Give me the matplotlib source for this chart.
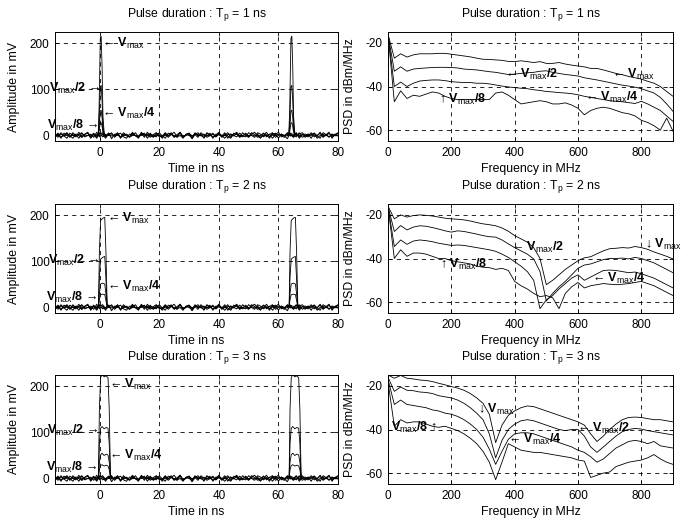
import numpy as np
import matplotlib.pyplot as plt

plt.rcParams['font.family'] = ['Liberation Sans', 'DejaVu Sans']
plt.rcParams['mathtext.fontset'] = 'custom'
plt.rcParams['mathtext.rm'] = 'Liberation Sans'
plt.rcParams['mathtext.bf'] = 'Liberation Sans:bold'
plt.rcParams['mathtext.it'] = 'Liberation Sans:italic'
plt.rcParams['axes.unicode_minus'] = False

# ---------------- time domain data ----------------
TIME = np.arange(-15, 81)          # 1 ns grid of the noise floor
PERIOD = 64                        # second pulse starts 64 ns later

NOISE_A = [2, -5, 5, -2, -7, 4, -1, -4, 6, -5, 1, 4, -7, 2, -2, 5,
           -4, -1, 4, -8, 2, 1, -5, 5, -2, -4, 4, -1, -7, 6, -2, 2,
           -5, 1, 5, -4, -1, -7, 4, 2, -2, -5, 6, -4, 1, -1, -5, 5,
           -2, 2, -7, 4, 1, -4, -1, 6, -5, 2, -2, -7, 4, 1, -4, 5,
           -1, -5, 2, 6, -2, -7, 4, -4, 1, 5, -5, -1, 2, -2, -8, 4,
           1, -4, 5, -5, -1, 2, -7, 4, -2, 6, -4, 1, -5, 2, -1, -2]
NOISE_B = [-2, 4, -4, -1, 5, -5, 2, 1, -7, 4, -2, -1, 2, -5, 6, -4,
           1, -7, 4, 2, -2, 5, -5, -1, 2, -4, 6, -2, -5, 1, 4, -7,
           2, -1, -4, 5, -2, 4, -5, 1, 6, -4, -1, -7, 2, 4, -2, 1,
           -5, 5, -1, -2, 4, -7, 2, 1, -4, -1, 5, -5, 1, 6, -2, -4,
           4, -2, -1, -5, 5, 2, -4, 1, -7, 4, -1, 2, -2, -5, 5, 1,
           -4, 4, -7, 1, 2, -2, 5, -4, -1, 4, -5, 1, 6, -7, 2, -1]
NOISE_C = [-1, 2, -7, 4, 1, -4, 5, -2, -1, -5, 2, 6, -4, 1, -7, 4,
           2, -2, -1, 5, -5, 1, 4, -4, -7, 2, 1, -1, -2, 4, -5, 6,
           -2, -4, 4, 1, -7, 2, -1, 5, -4, -2, 4, -5, 1, 2, -8, 1,
           5, -2, 2, -5, -1, 4, -4, 1, -2, 5, -7, 2, -1, -4, 4, -2,
           -4, 5, 1, -2, 2, -5, -1, 6, -4, 1, 4, -7, 2, -1, -2, 4,
           -5, -1, 2, 5, -2, -4, 1, 4, -7, -1, 2, -2, 4, -4, 1, 5]
NOISE_D = [-5, 1, 2, -2, 4, -1, -7, 2, 1, 5, -4, -1, -2, 4, -5, 2,
           5, -4, 1, -2, -1, 4, -7, 2, 1, -5, -1, 5, -4, 1, 2, -2,
           4, -5, 1, -1, -4, 5, -2, 2, -5, 1, 6, -4, -1, 4, -7, 2,
           1, -1, -5, 5, -2, 2, -4, 4, -1, -7, 1, 2, -2, 4, -5, -1,
           2, -4, 5, 1, -5, -1, 4, -2, 2, -7, 1, 6, -4, -1, 4, -2,
           -1, 5, -4, 1, -5, 2, -1, 4, -2, -7, 5, 1, -4, 2, -2, 4]

# Tp = 1 ns pulse (time relative to pulse start, mV)
P1_T = [-1.0, -0.5, -0.2, 0.2, 0.5, 0.8, 1.1, 1.5, 2.0]
P1_VMAX = [0, 2, 60, 210, 215, 150, 40, 5, 0]
P1_V2 = [0, 1, 30, 105, 108, 75, 20, 3, 0]
P1_V4 = [0, 1, 15, 52, 54, 38, 10, 2, 0]
P1_V8 = [0, 0, 8, 26, 27, 19, 5, 1, 0]

# Tp = 2 ns
P2_T = [-1.0, -0.4, -0.1, 0.3, 1.0, 1.7, 2.1, 2.5, 3.0]
P2_VMAX = [0, 3, 120, 188, 193, 195, 120, 5, 0]
P2_V2 = [0, 2, 65, 104, 108, 110, 60, 3, 0]
P2_V4 = [0, 1, 30, 50, 52, 50, 28, 2, 0]
P2_V8 = [0, 1, 16, 27, 28, 27, 14, 1, 0]

# Tp = 3 ns
P3_T = [-1.0, -0.4, -0.1, 0.3, 0.8, 1.5, 2.2, 2.8, 3.2, 3.6, 4.0]
P3_VMAX = [0, 5, 150, 218, 225, 220, 222, 218, 150, 10, 0]
P3_V2 = [0, 3, 75, 108, 112, 107, 110, 108, 75, 5, 0]
P3_V4 = [0, 2, 35, 50, 54, 49, 52, 50, 35, 3, 0]
P3_V8 = [0, 1, 18, 27, 29, 26, 28, 26, 18, 2, 0]

# ---------------- PSD data (dBm/MHz) ----------------
FREQ = np.arange(0, 901, 20)

PSD1_VMAX = [-16, -27, -25, -26.5, -25.5, -25, -25, -25, -24.8, -24.8,
             -25.2, -25.6, -26, -26.4, -27, -27.5, -27.6, -27.8, -28, -28.5,
             -28.6, -28.2, -28.6, -29, -28.6, -29.4, -29.4, -29, -29.7, -30.2,
             -30.6, -31, -31.7, -31.7, -32.4, -33.2, -34, -34.6, -35.4, -36,
             -36.6, -37.6, -38.5, -40, -42.3, -44.5]
PSD1_V2 = [-16, -33, -31, -33, -32, -31.7, -31.5, -31.3, -31.2, -31.2,
           -31.3, -31.5, -32, -32.2, -32.4, -32.8, -33.2, -33.5, -34, -34.5,
           -34.3, -34, -33.7, -33.5, -33, -32.8, -33.5, -34, -34.5, -34.8,
           -35.2, -36, -36.5, -37, -37.6, -38.2, -38.8, -39.4, -39.8, -40.3,
           -41, -42, -43, -45, -48, -51.4]
PSD1_V4 = [-16, -40, -38, -40, -38.5, -37.5, -37.2, -37, -37, -37.3,
           -37.8, -38, -38.2, -38.2, -38.5, -38.5, -38.8, -39.3, -39.8, -40.2,
           -40.5, -40.8, -41, -41.5, -41.8, -42.3, -42.5, -42.8, -43, -43.3,
           -43.8, -44.5, -45, -45.5, -46, -46.5, -46.8, -47, -47.4, -47.8,
           -46.8, -48, -49.5, -51, -53.5, -56]
PSD1_V8 = [-16, -47, -42, -45.5, -44, -44.5, -43.5, -42.5, -43, -44.5,
           -45.5, -46, -46, -46, -46, -46, -46, -43, -42.5, -44,
           -46, -48, -47.5, -47, -46.5, -47, -48, -48, -47.5, -48.5,
           -50, -53, -51, -50, -49.5, -50, -51, -52, -52.5, -53.5,
           -55.5, -56.5, -58, -60, -54.5, -60.5]

PSD2_VMAX = [-16, -21.8, -20, -21, -20.3, -20, -20.2, -20.5, -21, -21.5,
             -21.8, -22, -22.3, -22.8, -23.5, -24.1, -24.5, -25, -26, -27.5,
             -29.5, -31, -32.5, -35, -40, -52, -50, -47.5, -45, -43,
             -41, -39.7, -39.2, -37.8, -36.5, -35.5, -35.3, -35, -35.2, -34.5,
             -35, -35.8, -37, -38, -39, -40.2]
PSD2_V2 = [-16, -27.6, -24.9, -26.9, -25.6, -25, -25.2, -25.8, -26.5, -27.3,
           -27.9, -27.3, -27.6, -28.2, -28.8, -29.5, -30, -30.2, -31.5, -33.3,
           -35, -36.5, -38, -40.2, -46, -59.5, -56, -53, -50.5, -47.5,
           -44.5, -43, -42.5, -41.5, -40.5, -40, -40, -39.8, -40.2, -39.5,
           -40, -41, -42, -43.5, -45, -46.5]
PSD2_V4 = [-16, -34.5, -31.5, -33.5, -32, -31.5, -31.8, -32.3, -33, -33.5,
           -34, -33.8, -34, -34.5, -35, -35.5, -36, -36.7, -38, -39.5,
           -41.5, -43.5, -46, -50, -63, -59, -57, -54, -51.5, -49,
           -47.5, -50, -48.5, -47, -45.5, -45.3, -45.5, -46, -46.5, -46.2,
           -47, -48, -49, -50.5, -52, -53.5]
PSD2_V8 = [-16, -40, -36, -39, -37.5, -37.5, -38, -39, -40, -40,
           -41, -41.5, -42, -42.5, -43.5, -44, -44.2, -45, -44.5, -45.5,
           -50.5, -52.5, -54, -56, -57.5, -57, -58, -63, -56, -53,
           -51, -53.5, -52.5, -52, -51.5, -51.8, -52, -51.8, -51.5, -51,
           -50.5, -51.5, -52.5, -54, -55.5, -57]

PSD3_VMAX = [-15, -16.5, -15.2, -16.5, -16.8, -17.3, -17.5, -18, -18.8, -19.5,
             -20.3, -21, -22, -23.5, -25.5, -28, -33, -46, -38, -33.5,
             -31.5, -30, -29.2, -29.5, -30.5, -31.5, -32.5, -33.5, -34.5, -35.5,
             -36.5, -38, -42, -45.5, -43, -40, -37.5, -35.5, -34.5, -34.3,
             -34.5, -35, -35.5, -35.5, -36, -36.5]
PSD3_V2 = [-16, -22.5, -20.5, -22, -22.2, -22.8, -23, -23.5, -24.5, -25,
           -25.5, -26.5, -28, -30, -32.5, -35.5, -42, -53, -45, -40,
           -37.5, -36, -35.5, -36, -37, -38, -39, -40, -40.5, -40,
           -40, -43, -48, -50.5, -48, -45.5, -43, -41, -40, -39.5,
           -39.8, -40.5, -41, -41.5, -42, -42.5]
PSD3_V4 = [-17, -28.5, -26.5, -28.5, -29, -29.5, -30, -31, -31.5, -32.5,
           -33, -34, -35.5, -37.5, -40, -43.5, -49, -56, -50, -44.5,
           -42, -41.5, -41.5, -42, -43, -44, -45, -46, -47, -48,
           -49.5, -50.5, -52.5, -55, -53.5, -51, -48.5, -47, -45.5, -45,
           -45.5, -46.5, -45.5, -47.5, -48, -48.5]
PSD3_V8 = [-18, -38.5, -35.5, -37, -36.5, -36.5, -37.5, -38.5, -39, -38.5,
           -39.5, -40.5, -42, -44, -46.5, -50, -55, -63, -55, -46.5,
           -48, -49.5, -50, -50.5, -50.5, -51, -51.5, -52, -52.5, -53,
           -54, -54.5, -62, -61, -60, -59.5, -57, -56, -55, -54.5,
           -54, -53, -51.5, -53.5, -55, -56]

# ---------------- labels ----------------
VMAX = r'$\mathbf{V}_{\mathrm{max}}$'
V2 = r'$\mathbf{V}_{\mathrm{max}}\mathbf{/2}$'
V4 = r'$\mathbf{V}_{\mathrm{max}}\mathbf{/4}$'
V8 = r'$\mathbf{V}_{\mathrm{max}}\mathbf{/8}$'
LA, RA, UA, DA = '\u2190 ', ' \u2192', '\u2191 ', '\u2193 '

W, H = 681.0, 522.0
FS = 8.8


def box(l, t, w, h):
    return [l / W, 1 - (t + h) / H, w / W, h / H]


def style(ax):
    ax.grid(True, color='k', linestyle=(0, (5, 5)), linewidth=0.6)
    ax.tick_params(direction='in', length=3, width=0.6, labelsize=8.5, pad=4,
                   top=True, right=True)
    for s in ax.spines.values():
        s.set_linewidth(0.7)


def note(ax, x, y, s, ha='left'):
    ax.text(x, y, s, ha=ha, va='center', fontsize=9, clip_on=False)


fig = plt.figure(figsize=(6.81, 5.22), dpi=100)
tops = [32, 204, 375]

time_panels = [
    (1, P1_T, [P1_VMAX, P1_V2, P1_V4, P1_V8],
     [(0.9, 200, LA + VMAX, 'left'), (0.3, 102, V2 + RA, 'right'),
      (0.9, 46, LA + V4, 'left'), (-0.6, 20, V8 + RA, 'right')]),
    (2, P2_T, [P2_VMAX, P2_V2, P2_V4, P2_V8],
     [(2.3, 192, LA + VMAX, 'left'), (-0.2, 101, V2 + RA, 'right'),
      (2.3, 44, LA + V4, 'left'), (-0.8, 20, V8 + RA, 'right')]),
    (3, P3_T, [P3_VMAX, P3_V2, P3_V4, P3_V8],
     [(3.1, 203, LA + VMAX, 'left'), (-0.5, 103, V2 + RA, 'right'),
      (3.1, 48, LA + V4, 'left'), (-0.8, 24, V8 + RA, 'right')]),
]
psd_panels = [
    (1, [PSD1_VMAX, PSD1_V2, PSD1_V4, PSD1_V8],
     [(708, -34.5, LA + VMAX, 'left'), (370, -34.7, LA + V2, 'left'),
      (621, -45, LA + V4, 'left'), (160, -46, UA + V8, 'left')]),
    (2, [PSD2_VMAX, PSD2_V2, PSD2_V4, PSD2_V8],
     [(812, -33.5, DA + VMAX, 'left'), (390, -34.8, LA + V2, 'left'),
      (645, -49, LA + V4, 'left'), (165, -42.5, UA + V8, 'left')]),
    (3, [PSD3_VMAX, PSD3_V2, PSD3_V4, PSD3_V8],
     [(285, -31, DA + VMAX, 'left'), (597, -39.5, LA + V2, 'left'),
      (380, -44.5, LA + V4, 'left'), (155, -39, V8 + ' \u2191', 'right')]),
]
noises = [NOISE_A, NOISE_B, NOISE_C, NOISE_D]

for row, (tp, pt, traces, notes) in enumerate(time_panels):
    ax = fig.add_axes(box(55, tops[row], 283, 109))
    for noise, pv in zip(noises, traces):
        ax.plot(TIME, noise, color='k', linewidth=0.7)
        for start in (0, PERIOD):
            ax.plot(np.array(pt) + start, pv, color='k', linewidth=0.6)
    ax.set_xlim(-15, 80)
    ax.set_ylim(-13, 224)
    ax.set_xticks([0, 20, 40, 60, 80])
    ax.set_yticks([0, 100, 200])
    style(ax)
    ax.set_title('Pulse duration : T$_{\\mathrm{p}}$ = %d ns' % tp, fontsize=FS, pad=11)
    ax.set_xlabel('Time in ns', fontsize=FS, labelpad=3)
    ax.set_ylabel('Amplitude in mV', fontsize=FS, labelpad=7)
    for x, y, s, ha in notes:
        note(ax, x, y, s, ha)

for row, (tp, curves, notes) in enumerate(psd_panels):
    ax = fig.add_axes(box(388, tops[row], 285, 109))
    for c in curves:
        ax.plot(FREQ, c, color='k', linewidth=0.6)
    ax.set_xlim(0, 900)
    ax.set_ylim(-65, -15)
    ax.set_xticks([0, 200, 400, 600, 800])
    ax.set_yticks([-60, -40, -20])
    style(ax)
    ax.set_title('Pulse duration : T$_{\\mathrm{p}}$ = %d ns' % tp, fontsize=FS, pad=11)
    ax.set_xlabel('Frequency in MHz', fontsize=FS, labelpad=3)
    ax.set_ylabel('PSD in dBm/MHz', fontsize=FS, labelpad=7)
    for x, y, s, ha in notes:
        note(ax, x, y, s, ha)

fig.savefig('out.png', dpi=100)
